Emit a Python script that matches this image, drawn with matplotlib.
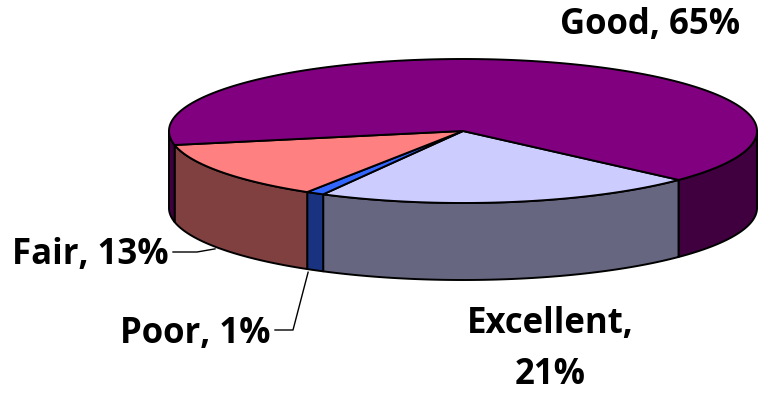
import numpy as np
import matplotlib.pyplot as plt
from matplotlib.patches import Polygon

# slices in drawing order (clockwise on screen, starting at the Good/Excellent edge)
labels = ['Excellent', 'Poor', 'Fair', 'Good']
values = [21, 1, 13, 65]
top_colors = ['#CCCCFF', '#3366FF', '#FF8080', '#800080']
side_colors = ['#666680', '#193380', '#804040', '#400040']

# ellipse geometry of the 3D pie (pixels)
cx, cy, rx, ry, depth = 463, 131, 294, 72, 77
start = 42.8

fig = plt.figure(figsize=(7.62, 3.93), dpi=100)
ax = fig.add_axes([0, 0, 1, 1])
ax.set_xlim(0, 762)
ax.set_ylim(393, 0)
ax.axis('off')


def arc(a, b):
    t = np.radians(np.linspace(a, b, max(int(abs(b - a) * 3), 2)))
    return cx + rx * np.cos(t), cy + ry * np.sin(t)


fracs = np.array(values) / sum(values)
bounds = start + np.concatenate([[0], np.cumsum(fracs) * 360])

# side walls (only the front half is visible)
for i in range(len(values)):
    a, b = bounds[i], bounds[i + 1]
    for lo, hi in [(0, 180), (360, 540)]:
        s, e = max(a, lo), min(b, hi)
        if e > s:
            x, y = arc(s, e)
            pts = np.column_stack([np.r_[x, x[::-1]], np.r_[y, y[::-1] + depth]])
            ax.add_patch(Polygon(pts, closed=True, facecolor=side_colors[i],
                                 edgecolor='black', linewidth=1.4, joinstyle='round'))

# top faces
for i in range(len(values)):
    x, y = arc(bounds[i], bounds[i + 1])
    pts = np.column_stack([np.r_[cx, x], np.r_[cy, y]])
    ax.add_patch(Polygon(pts, closed=True, facecolor=top_colors[i],
                         edgecolor='black', linewidth=1.4, joinstyle='round'))


def side_bottom(i):
    t = np.radians((bounds[i] + bounds[i + 1]) / 2)
    return cx + rx * np.cos(t), cy + ry * np.sin(t) + depth


font = dict(family=['Open Sans', 'DejaVu Sans'], fontweight='bold', fontsize=25, color='black')

ax.text(650, 34, 'Good, 65%', ha='center', va='baseline', **font)
ax.text(550, 333, 'Excellent,', ha='center', va='baseline', **font)
ax.text(550, 384, '21%', ha='center', va='baseline', **font)

# Fair label with leader
ax.text(169, 264, 'Fair, 13%', ha='right', va='baseline', **font)
px, py = side_bottom(2)
ax.plot([173, 197, px - 6], [252, 252, py], color='black', lw=1)

# Poor label with leader
ax.text(271, 343, 'Poor, 1%', ha='right', va='baseline', **font)
px, py = side_bottom(1)
ax.plot([275, 293, px - 7], [330, 330, py + 2], color='black', lw=1)

fig.savefig('out.png', dpi=100)
